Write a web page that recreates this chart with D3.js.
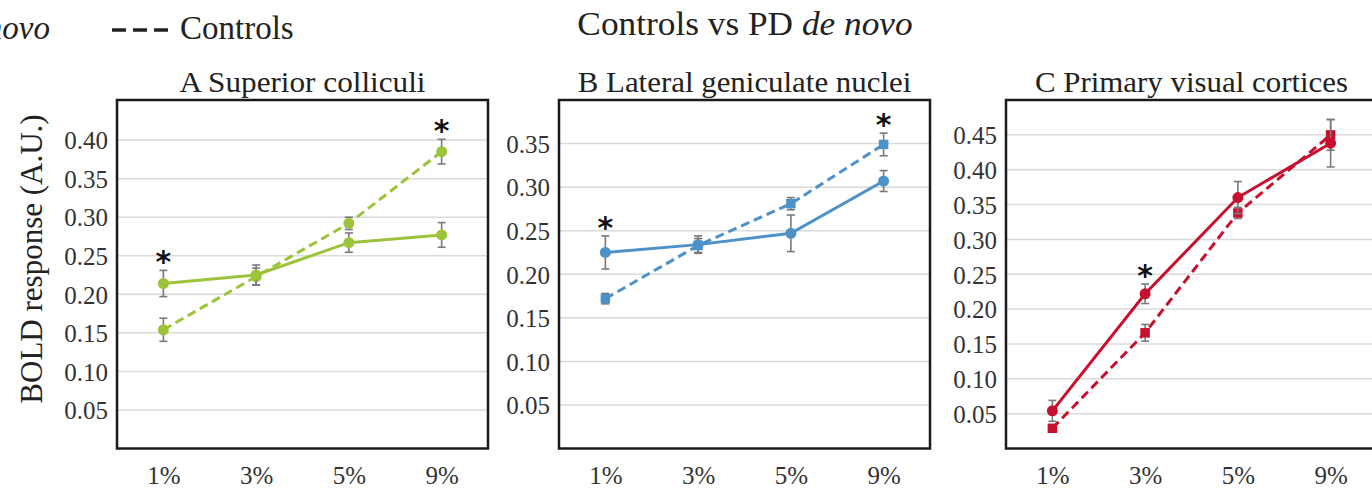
<!DOCTYPE html>
<html>
<head>
<meta charset="utf-8">
<script src="https://cdn.jsdelivr.net/npm/d3@7"></script>
<style>
  body { margin: 0; background: #fff; }
  svg { display: block; font-family: "Liberation Serif", "Times New Roman", serif; }
</style>
</head>
<body>
<div class="container"></div>
<script>
// contrast levels on the x axis
const contrasts = ['1%', '3%', '5%', '9%'];

// A  Superior colliculi
const scPD = [0.214, 0.225, 0.267, 0.277];
const scPDErr = [0.017, 0.013, 0.0125, 0.016];
const scCtrl = [0.154, 0.223, 0.292, 0.385];
const scCtrlErr = [0.015, 0.011, 0.008, 0.016];
const scStars = ['1%', '9%'];
const scTicks = [0.05, 0.10, 0.15, 0.20, 0.25, 0.30, 0.35, 0.40];

// B  Lateral geniculate nuclei
const lgnPD = [0.225, 0.234, 0.247, 0.307];
const lgnPDErr = [0.019, 0.010, 0.021, 0.012];
const lgnCtrl = [0.172, 0.233, 0.281, 0.349];
const lgnCtrlErr = [0.006, 0.008, 0.007, 0.013];
const lgnStars = ['1%', '9%'];
const lgnTicks = [0.05, 0.10, 0.15, 0.20, 0.25, 0.30, 0.35];

// C  Primary visual cortices
const v1PD = [0.054, 0.222, 0.360, 0.438];
const v1PDErr = [0.015, 0.014, 0.023, 0.034];
const v1Ctrl = [0.029, 0.166, 0.338, 0.450];
const v1CtrlErr = [0.005, 0.012, 0.008, 0.022];
const v1Stars = ['3%'];
const v1Ticks = [0.05, 0.10, 0.15, 0.20, 0.25, 0.30, 0.35, 0.40, 0.45];

const panels = [
    {title: 'A  Superior colliculi', pd: scPD, pdErr: scPDErr, ctrl: scCtrl, ctrlErr: scCtrlErr,
     stars: scStars, ticks: scTicks, yMax: 0.452, color: '#9cc43b', left: 117, square: false, sx: 1.04},
    {title: 'B  Lateral geniculate nuclei', pd: lgnPD, pdErr: lgnPDErr, ctrl: lgnCtrl, ctrlErr: lgnCtrlErr,
     stars: lgnStars, ticks: lgnTicks, yMax: 0.40, color: '#4d91c9', left: 559, square: true, sx: 1.03},
    {title: 'C  Primary visual cortices', pd: v1PD, pdErr: v1PDErr, ctrl: v1Ctrl, ctrlErr: v1CtrlErr,
     stars: v1Stars, ticks: v1Ticks, yMax: 0.50, color: '#c8102e', left: 1006, square: true, sx: 1.03}
];

const width = 1372, height = 490;
const boxW = 371, boxTop = 100, boxBottom = 448.5;

const svg = d3.select('.container')
    .append('svg')
    .attr('width', width)
    .attr('height', height);

// legend (partly cut off at the left edge, like the source)
const legend = svg.append('g').attr('class', 'legend');
const pdText = legend.append('text')
    .attr('x', 50).attr('y', 39)
    .attr('text-anchor', 'end')
    .attr('font-size', 33)
    .attr('fill', '#222');
pdText.append('tspan').text('PD ');
pdText.append('tspan').attr('font-style', 'italic').text('de novo');
legend.append('line')
    .attr('x1', 112).attr('x2', 168).attr('y1', 30).attr('y2', 30)
    .attr('stroke', '#222').attr('stroke-width', 3.5)
    .attr('stroke-dasharray', '14,7');
legend.append('text')
    .attr('x', 180).attr('y', 39)
    .attr('font-size', 33)
    .attr('fill', '#222')
    .text('Controls');

// main title
const title = svg.append('text')
    .attr('transform', 'translate(745,35) scale(1.07,1)')
    .attr('text-anchor', 'middle')
    .attr('font-size', 33)
    .attr('fill', '#222');
title.append('tspan').text('Controls vs PD ');
title.append('tspan').attr('font-style', 'italic').text('de novo');

// y axis label
svg.append('text')
    .attr('transform', 'translate(42,259) rotate(-90)')
    .attr('text-anchor', 'middle')
    .attr('font-size', 31)
    .attr('fill', '#222')
    .text('BOLD response (A.U.)');

panels.forEach(p => {
    const x = d3.scalePoint()
        .domain(contrasts)
        .range([p.left, p.left + boxW])
        .padding(0.5);
    const y = d3.scaleLinear()
        .domain([0, p.yMax])
        .range([boxBottom, boxTop]);

    const g = svg.append('g').attr('class', 'panel');

    // gridlines
    g.append('g')
        .selectAll('line')
        .data(p.ticks)
        .enter().append('line')
        .attr('x1', p.left).attr('x2', p.left + boxW)
        .attr('y1', d => y(d)).attr('y2', d => y(d))
        .attr('stroke', '#dadada').attr('stroke-width', 1.5);

    // y axis labels
    const yAxis = g.append('g')
        .attr('transform', `translate(${p.left - 9},0)`)
        .call(d3.axisLeft(y).tickValues(p.ticks).tickFormat(d3.format('.2f')).tickSize(0).tickPadding(0));
    yAxis.select('.domain').remove();
    yAxis.selectAll('text')
        .attr('font-family', '"Liberation Serif", serif')
        .attr('font-size', 25)
        .attr('fill', '#333')
        .attr('dy', '0.35em');

    // x axis labels
    const xAxis = g.append('g')
        .attr('transform', `translate(0,${boxBottom + 35})`)
        .call(d3.axisBottom(x).tickSize(0).tickPadding(0));
    xAxis.select('.domain').remove();
    xAxis.selectAll('text')
        .attr('font-family', '"Liberation Serif", serif')
        .attr('font-size', 25)
        .attr('fill', '#333')
        .attr('dy', 0);

    // panel title
    g.append('text')
        .attr('transform', `translate(${p.left + boxW / 2},92) scale(${p.sx},1)`)
        .attr('text-anchor', 'middle')
        .attr('font-size', 30)
        .attr('fill', '#222')
        .text(p.title);

    const series = [
        {vals: p.ctrl, err: p.ctrlErr, dash: '9,5', square: p.square},
        {vals: p.pd, err: p.pdErr, dash: null, square: false}
    ];

    series.forEach(s => {
        const pts = contrasts.map((c, i) => ({c: c, v: s.vals[i], e: s.err[i]}));

        const line = d3.line().x(d => x(d.c)).y(d => y(d.v));
        g.append('path')
            .datum(pts)
            .attr('d', line)
            .attr('fill', 'none')
            .attr('stroke', p.color)
            .attr('stroke-width', 3)
            .attr('stroke-dasharray', s.dash);

        // error bars
        const eb = g.append('g').selectAll('g').data(pts).enter().append('g')
            .attr('stroke', '#7a7a7a').attr('stroke-width', 1.6);
        eb.append('line')
            .attr('x1', d => x(d.c)).attr('x2', d => x(d.c))
            .attr('y1', d => y(d.v - d.e)).attr('y2', d => y(d.v + d.e));
        eb.append('line')
            .attr('x1', d => x(d.c) - 4).attr('x2', d => x(d.c) + 4)
            .attr('y1', d => y(d.v + d.e)).attr('y2', d => y(d.v + d.e));
        eb.append('line')
            .attr('x1', d => x(d.c) - 4).attr('x2', d => x(d.c) + 4)
            .attr('y1', d => y(d.v - d.e)).attr('y2', d => y(d.v - d.e));

        // markers
        g.append('g').selectAll('path').data(pts).enter().append('path')
            .attr('transform', d => `translate(${x(d.c)},${y(d.v)})`)
            .attr('d', d3.symbol().type(s.square ? d3.symbolSquare : d3.symbolCircle).size(s.square ? 90 : 95))
            .attr('fill', p.color);
    });

    // significance stars above the highest error bar
    g.append('g').selectAll('text')
        .data(p.stars)
        .enter().append('text')
        .attr('x', d => x(d))
        .attr('y', d => {
            const i = contrasts.indexOf(d);
            const top = Math.max(p.pd[i] + p.pdErr[i], p.ctrl[i] + p.ctrlErr[i]);
            return y(top) + 2;
        })
        .attr('text-anchor', 'middle')
        .attr('font-family', '"DejaVu Sans", sans-serif')
        .attr('font-weight', 'bold')
        .attr('font-size', 30)
        .attr('fill', '#111')
        .text('*');

    // plot frame
    g.append('rect')
        .attr('x', p.left).attr('y', boxTop)
        .attr('width', boxW).attr('height', boxBottom - boxTop)
        .attr('fill', 'none')
        .attr('stroke', '#1a1a1a')
        .attr('stroke-width', 2.5);
});
</script>
</body>
</html>
